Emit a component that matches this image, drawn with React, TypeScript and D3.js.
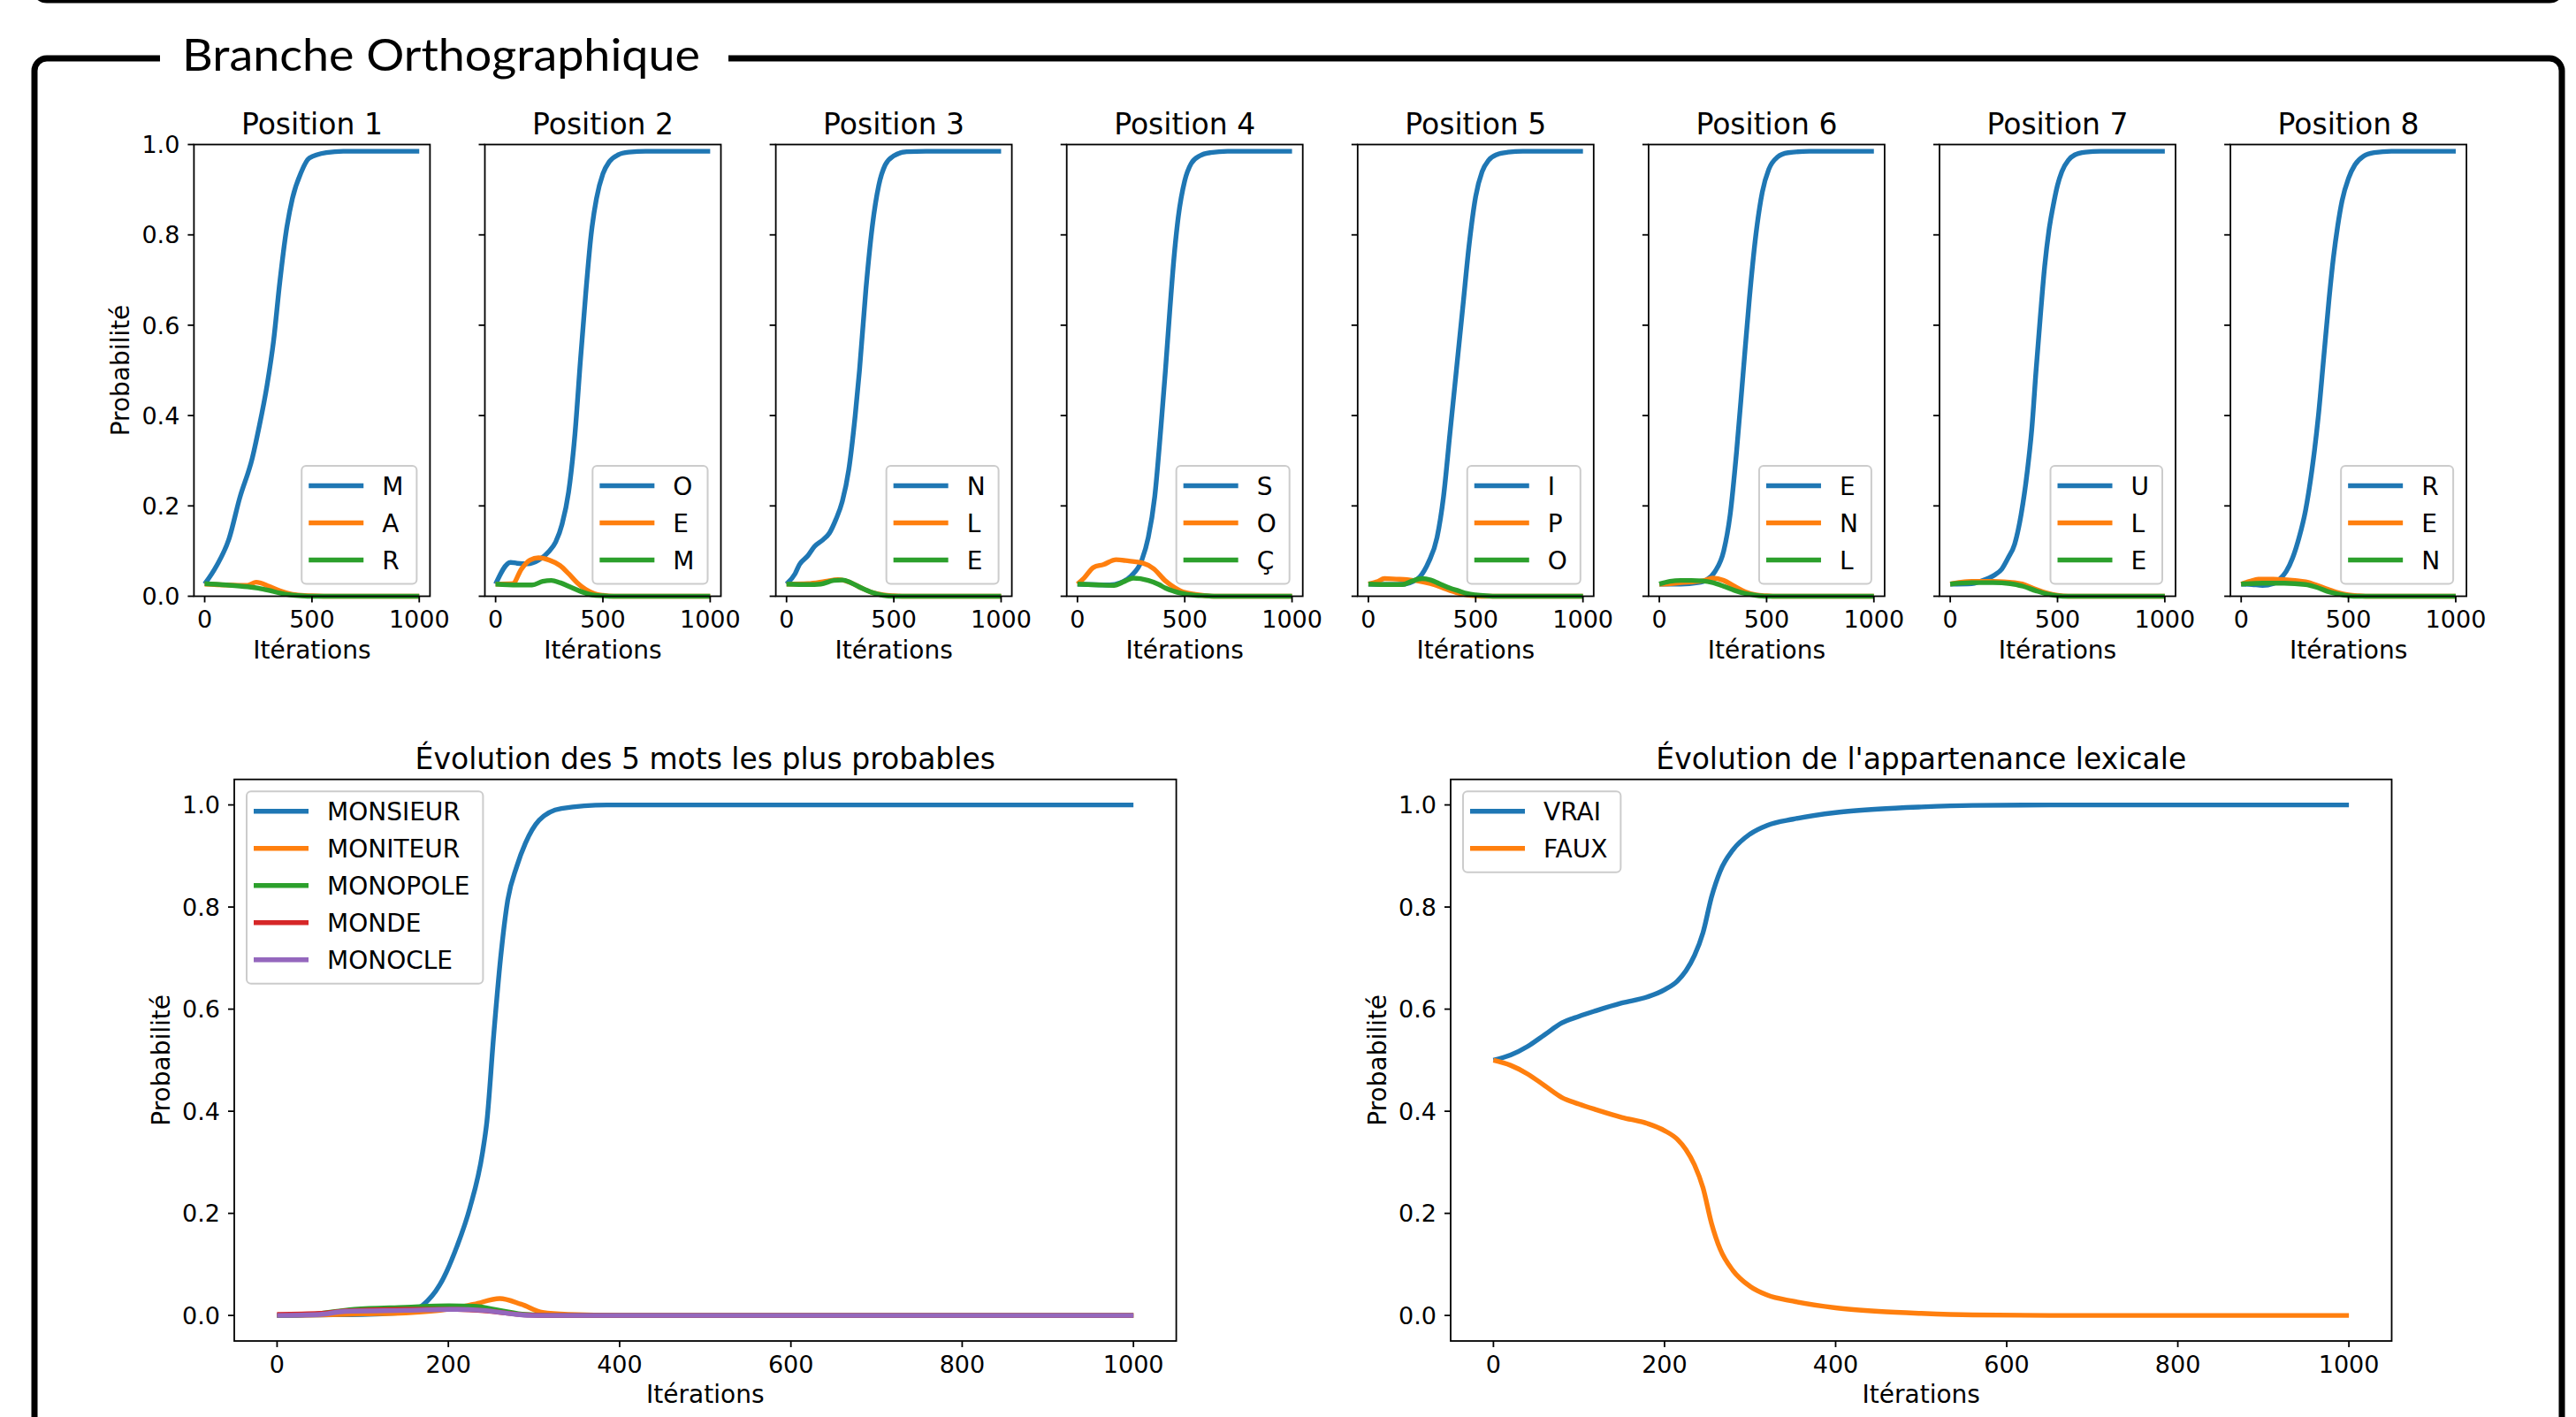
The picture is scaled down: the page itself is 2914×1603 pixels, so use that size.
import React from 'react';
import * as d3 from 'd3';

type Pt = [number, number];

const W = 2914;
const H = 1603;
const COLORS = ['#1f77b4', '#ff7f0e', '#2ca02c', '#d62728', '#9467bd'];
const FONT = '"DejaVu Sans", sans-serif';

// ---------- Data: top row (per-position letter probabilities) ----------
const p1_M: Pt[] = [[0,0.027],[55,0.067],[114,0.128],[163,0.217],[222,0.306],[252,0.371],[291,0.468],[321,0.565],[350,0.695],[380,0.808],[409,0.881],[449,0.938],[488,0.97],[567,0.982],[646,0.985],[1000,0.985]];
const p1_A: Pt[] = [[0,0.027],[100,0.025],[200,0.024],[240,0.031],[300,0.022],[350,0.012],[400,0.005],[450,0.002],[500,0.001],[600,0],[1000,0]];
const p1_R: Pt[] = [[0,0.028],[100,0.025],[200,0.021],[250,0.018],[300,0.013],[350,0.007],[400,0.003],[450,0.001],[500,0],[1000,0]];

const p2_O: Pt[] = [[0,0.027],[70,0.075],[100,0.073],[150,0.072],[200,0.08],[250,0.1],[280,0.12],[310,0.16],[340,0.23],[370,0.36],[395,0.52],[420,0.67],[445,0.8],[470,0.88],[500,0.935],[530,0.962],[570,0.977],[620,0.983],[700,0.985],[1000,0.985]];
const p2_E: Pt[] = [[0,0.027],[80,0.028],[120,0.06],[160,0.08],[200,0.085],[250,0.08],[300,0.068],[340,0.05],[380,0.03],[420,0.015],[460,0.006],[500,0.002],[550,0],[1000,0]];
const p2_M: Pt[] = [[0,0.027],[100,0.025],[170,0.025],[220,0.033],[260,0.035],[300,0.03],[350,0.02],[400,0.01],[450,0.003],[500,0.001],[550,0],[1000,0]];

const p3_N: Pt[] = [[0,0.027],[40,0.05],[60,0.07],[100,0.09],[130,0.11],[170,0.125],[200,0.14],[230,0.17],[260,0.21],[290,0.28],[320,0.4],[340,0.5],[370,0.68],[400,0.82],[430,0.91],[460,0.955],[500,0.975],[560,0.984],[650,0.985],[1000,0.985]];
const p3_L: Pt[] = [[0,0.027],[100,0.028],[180,0.033],[240,0.037],[300,0.03],[350,0.018],[400,0.008],[450,0.003],[500,0.001],[550,0],[1000,0]];
const p3_E: Pt[] = [[0,0.027],[100,0.026],[160,0.027],[220,0.035],[260,0.036],[300,0.03],[350,0.018],[400,0.008],[450,0.002],[500,0],[1000,0]];

const p4_S: Pt[] = [[0,0.027],[150,0.025],[200,0.03],[250,0.045],[300,0.08],[330,0.13],[360,0.22],[390,0.38],[410,0.5],[430,0.63],[450,0.75],[470,0.84],[500,0.92],[530,0.958],[570,0.975],[620,0.982],[700,0.985],[1000,0.985]];
const p4_O: Pt[] = [[0,0.027],[30,0.04],[75,0.064],[120,0.07],[180,0.081],[240,0.078],[300,0.074],[355,0.061],[410,0.034],[450,0.02],[480,0.012],[550,0.004],[600,0.001],[650,0],[1000,0]];
const p4_C: Pt[] = [[0,0.027],[100,0.025],[170,0.024],[220,0.033],[260,0.04],[330,0.035],[380,0.026],[410,0.018],[450,0.011],[480,0.007],[550,0.002],[600,0.001],[650,0],[1000,0]];

const p5_I: Pt[] = [[0,0.027],[100,0.026],[170,0.027],[210,0.033],[240,0.043],[280,0.075],[320,0.13],[350,0.22],[380,0.36],[410,0.5],[440,0.64],[470,0.78],[500,0.885],[530,0.94],[560,0.965],[600,0.978],[650,0.983],[720,0.985],[1000,0.985]];
const p5_P: Pt[] = [[0,0.027],[40,0.032],[75,0.039],[130,0.038],[180,0.037],[260,0.031],[310,0.025],[360,0.016],[410,0.008],[460,0.003],[500,0.001],[550,0],[1000,0]];
const p5_O: Pt[] = [[0,0.027],[100,0.026],[160,0.026],[200,0.033],[250,0.039],[290,0.036],[330,0.028],[380,0.018],[420,0.012],[460,0.006],[500,0.003],[550,0.001],[600,0],[1000,0]];

const p6_E: Pt[] = [[0,0.027],[100,0.027],[180,0.03],[220,0.036],[260,0.055],[300,0.1],[330,0.18],[360,0.32],[390,0.49],[420,0.66],[450,0.8],[480,0.895],[510,0.945],[550,0.972],[600,0.982],[700,0.985],[1000,0.985]];
const p6_N: Pt[] = [[0,0.027],[50,0.028],[100,0.03],[200,0.034],[250,0.04],[300,0.035],[350,0.022],[400,0.01],[450,0.003],[500,0.001],[550,0],[1000,0]];
const p6_L: Pt[] = [[0,0.027],[50,0.033],[100,0.035],[150,0.035],[200,0.034],[250,0.03],[300,0.022],[350,0.013],[400,0.006],[450,0.002],[500,0],[1000,0]];

const p7_U: Pt[] = [[0,0.027],[100,0.028],[140,0.033],[180,0.04],[210,0.048],[240,0.06],[270,0.085],[300,0.115],[330,0.18],[360,0.28],[380,0.37],[400,0.5],[420,0.62],[440,0.73],[460,0.81],[480,0.865],[500,0.91],[520,0.94],[550,0.965],[580,0.977],[630,0.983],[700,0.985],[1000,0.985]];
const p7_L: Pt[] = [[0,0.027],[50,0.031],[100,0.033],[200,0.033],[300,0.03],[350,0.025],[400,0.015],[450,0.007],[500,0.002],[550,0],[1000,0]];
const p7_E: Pt[] = [[0,0.027],[100,0.03],[200,0.03],[280,0.028],[340,0.022],[400,0.012],[450,0.005],[500,0.001],[550,0],[1000,0]];

const p8_R: Pt[] = [[0,0.027],[50,0.026],[100,0.024],[150,0.028],[180,0.038],[210,0.055],[240,0.085],[270,0.13],[300,0.19],[330,0.28],[360,0.4],[385,0.53],[410,0.66],[430,0.75],[450,0.82],[470,0.875],[500,0.925],[530,0.955],[570,0.974],[620,0.982],[700,0.985],[1000,0.985]];
const p8_E: Pt[] = [[0,0.027],[40,0.033],[80,0.038],[150,0.038],[200,0.037],[250,0.035],[300,0.032],[350,0.025],[400,0.016],[450,0.008],[500,0.003],[550,0.001],[600,0],[1000,0]];
const p8_N: Pt[] = [[0,0.027],[100,0.029],[200,0.029],[300,0.026],[350,0.02],[400,0.011],[450,0.005],[500,0.001],[550,0],[1000,0]];

const POSITION_TITLES = ['Position 1', 'Position 2', 'Position 3', 'Position 4', 'Position 5', 'Position 6', 'Position 7', 'Position 8'];
const POSITION_LETTERS = [['M','A','R'],['O','E','M'],['N','L','E'],['S','O','Ç'],['I','P','O'],['E','N','L'],['U','L','E'],['R','E','N']];
const POSITION_SERIES = [
  [p1_M, p1_A, p1_R], [p2_O, p2_E, p2_M], [p3_N, p3_L, p3_E], [p4_S, p4_O, p4_C],
  [p5_I, p5_P, p5_O], [p6_E, p6_N, p6_L], [p7_U, p7_L, p7_E], [p8_R, p8_E, p8_N],
];

// ---------- Data: bottom-left (top 5 words) ----------
const WORDS = ['MONSIEUR', 'MONITEUR', 'MONOPOLE', 'MONDE', 'MONOCLE'];
const w_MONSIEUR: Pt[] = [[0,0],[50,0.001],[100,0.002],[150,0.006],[170,0.02],[190,0.06],[210,0.135],[225,0.21],[240,0.32],[245,0.38],[253,0.55],[261,0.7],[269,0.81],[280,0.88],[290,0.925],[306,0.97],[332,0.993],[385,1.0],[1000,1.0]];
const w_MONITEUR: Pt[] = [[0,0],[50,0.001],[100,0.003],[150,0.005],[200,0.012],[230,0.022],[260,0.033],[285,0.022],[310,0.006],[340,0.002],[400,0],[1000,0]];
const w_MONOPOLE: Pt[] = [[0,0],[40,0.002],[70,0.008],[90,0.012],[150,0.016],[200,0.019],[230,0.018],[260,0.01],[290,0.002],[320,0],[1000,0]];
const w_MONDE: Pt[] = [[0,0.002],[50,0.004],[80,0.009],[150,0.012],[210,0.012],[250,0.008],[290,0.001],[320,0],[1000,0]];
const w_MONOCLE: Pt[] = [[0,0],[50,0.002],[80,0.008],[150,0.01],[210,0.012],[240,0.01],[280,0.002],[300,0],[1000,0]];
const WORD_SERIES = [w_MONSIEUR, w_MONITEUR, w_MONOPOLE, w_MONDE, w_MONOCLE];

// ---------- Data: bottom-right (lexical membership) ----------
const LEXICAL = ['VRAI', 'FAUX'];
const lex_VRAI: Pt[] = [[0,0.5],[20,0.51],[40,0.527],[60,0.55],[80,0.573],[100,0.586],[120,0.597],[150,0.612],[180,0.624],[200,0.638],[215,0.655],[225,0.675],[235,0.705],[245,0.75],[255,0.82],[265,0.87],[280,0.912],[300,0.943],[320,0.96],[350,0.972],[400,0.985],[450,0.992],[500,0.996],[560,0.999],[650,1.0],[1000,1.0]];
const lex_FAUX: Pt[] = [[0,0.5],[20,0.49],[40,0.473],[60,0.45],[80,0.427],[100,0.414],[120,0.403],[150,0.388],[180,0.376],[200,0.362],[215,0.345],[225,0.325],[235,0.295],[245,0.25],[255,0.18],[265,0.13],[280,0.088],[300,0.057],[320,0.04],[350,0.028],[400,0.015],[450,0.008],[500,0.004],[560,0.001],[650,0],[1000,0]];
const LEX_SERIES = [lex_VRAI, lex_FAUX];

// ---------- Ticks ----------
const TOP_X_TICKS = [0, 500, 1000];
const BOTTOM_X_TICKS = [0, 200, 400, 600, 800, 1000];
const Y_TICKS = [0, 0.2, 0.4, 0.6, 0.8, 1.0];

const FRAME_TITLE = 'Branche Orthographique';
const TITLE_WORDS = 'Évolution des 5 mots les plus probables';
const TITLE_LEX = "Évolution de l'appartenance lexicale";
const X_LABEL = 'Itérations';
const Y_LABEL = 'Probabilité';

let ctx: CanvasRenderingContext2D | null = null;
function textWidth(s: string, size: number): number {
  if (!ctx) ctx = document.createElement('canvas').getContext('2d');
  if (!ctx) return s.length * size * 0.6;
  ctx.font = `${size}px "DejaVu Sans"`;
  return ctx.measureText(s).width;
}

interface PanelProps {
  x0: number; y0: number; w: number; h: number;
  yDomain: [number, number];
  xTicks: number[];
  showYTickLabels: boolean;
  showYLabel: boolean;
  title: string;
  series: Pt[][];
  names: string[];
  legend: 'lr' | 'ul';
  tickFs: number;
  lineW: number;
}

function Panel(p: PanelProps) {
  const { x0, y0, w, h } = p;
  const xs = d3.scaleLinear().domain([-50, 1050]).range([x0, x0 + w]);
  const ys = d3.scaleLinear().domain(p.yDomain).range([y0 + h, y0]);
  const line = d3.line<Pt>().x(d => xs(d[0])).y(d => ys(d[1])).curve(d3.curveMonotoneX);
  const fmtY = d3.format('.1f');
  const tickLen = 7;
  const legFs = 28;
  const maxW = Math.max(...p.names.map(n => textWidth(n, legFs)));
  const legW = 8 + 62 + 21 + maxW + 15;
  const legH = 22.5 + (p.names.length - 1) * 42 + 27;
  const legX = p.legend === 'lr' ? x0 + w - 15 - legW : x0 + 14;
  const legY = p.legend === 'lr' ? y0 + h - 14 - legH : y0 + 13.5;
  return (
    <g>
      <text x={x0 + w / 2} y={y0 - 12} textAnchor="middle" fontSize={33} fontFamily={FONT}>{p.title}</text>
      {p.series.map((s, i) => (
        <path key={i} d={line(s) || ''} fill="none" stroke={COLORS[i]} strokeWidth={p.lineW} strokeLinejoin="round" strokeLinecap="butt" />
      ))}
      <rect x={x0} y={y0} width={w} height={h} fill="none" stroke="#000" strokeWidth={1.8} />
      {Y_TICKS.map(t => (
        <g key={'y' + t}>
          <line x1={x0 - tickLen} x2={x0} y1={ys(t)} y2={ys(t)} stroke="#000" strokeWidth={1.8} />
          {p.showYTickLabels && (
            <text x={x0 - 16} y={ys(t) + p.tickFs * 0.36} textAnchor="end" fontSize={p.tickFs} fontFamily={FONT}>{fmtY(t)}</text>
          )}
        </g>
      ))}
      {p.xTicks.map(t => (
        <g key={'x' + t}>
          <line x1={xs(t)} x2={xs(t)} y1={y0 + h} y2={y0 + h + tickLen} stroke="#000" strokeWidth={1.8} />
          <text x={xs(t)} y={y0 + h + 26 + p.tickFs * 0.36} textAnchor="middle" fontSize={p.tickFs} fontFamily={FONT}>{String(t)}</text>
        </g>
      ))}
      <text x={x0 + w / 2} y={y0 + h + 60 + 28 * 0.36} textAnchor="middle" fontSize={28} fontFamily={FONT}>{X_LABEL}</text>
      {p.showYLabel && (
        <text transform={`translate(${x0 - 73},${y0 + h / 2}) rotate(-90)`} textAnchor="middle" fontSize={28} fontFamily={FONT}>{Y_LABEL}</text>
      )}
      <g>
        <rect x={legX} y={legY} width={legW} height={legH} rx={5} fill="#fff" fillOpacity={0.8} stroke="#cccccc" strokeWidth={2} />
        {p.names.map((n, i) => {
          const cy = legY + 22.5 + i * 42;
          return (
            <g key={n + i}>
              <line x1={legX + 8} x2={legX + 70} y1={cy} y2={cy} stroke={COLORS[i]} strokeWidth={p.lineW} />
              <text x={legX + 91} y={cy + legFs * 0.36} fontSize={legFs} fontFamily={FONT}>{n}</text>
            </g>
          );
        })}
      </g>
    </g>
  );
}

export default function App() {
  const topLeft0 = 219.4;
  const topStep = 329.1;
  const topW = 267;
  const topY = 163.5;
  const topH = 511;
  const botY = 881.7;
  const botH = 635.3;
  return (
    <svg width={W} height={H} viewBox={`0 0 ${W} ${H}`} style={{ position: 'absolute', left: 0, top: 0, background: '#fff' }}>
      <rect x={0} y={0} width={W} height={H} fill="#fff" />
      {/* previous frame bottom edge */}
      <rect x={39} y={-200} width={2859} height={200} rx={14} fill="none" stroke="#000" strokeWidth={7} />
      {/* main frame */}
      <rect x={39} y={66} width={2859} height={1700} rx={14} fill="none" stroke="#000" strokeWidth={7} />
      <rect x={181} y={55} width={643} height={24} fill="#fff" />
      <text x={206} y={80} fontSize={50} fontFamily="Lato, 'Open Sans', sans-serif" textLength={586} lengthAdjust="spacingAndGlyphs">{FRAME_TITLE}</text>

      {POSITION_SERIES.map((s, i) => (
        <Panel key={i}
          x0={topLeft0 + i * topStep} y0={topY} w={topW} h={topH}
          yDomain={[0, 1]} xTicks={TOP_X_TICKS}
          showYTickLabels={i === 0} showYLabel={i === 0}
          title={POSITION_TITLES[i]} series={s} names={POSITION_LETTERS[i]}
          legend="lr" tickFs={27} lineW={5.4} />
      ))}

      <Panel x0={265} y0={botY} w={1065.6} h={botH}
        yDomain={[-0.05, 1.05]} xTicks={BOTTOM_X_TICKS}
        showYTickLabels={true} showYLabel={true}
        title={TITLE_WORDS} series={WORD_SERIES} names={WORDS}
        legend="ul" tickFs={27} lineW={5.4} />

      <Panel x0={1641} y0={botY} w={1064.5} h={botH}
        yDomain={[-0.05, 1.05]} xTicks={BOTTOM_X_TICKS}
        showYTickLabels={true} showYLabel={true}
        title={TITLE_LEX} series={LEX_SERIES} names={LEXICAL}
        legend="ul" tickFs={27} lineW={5.4} />
    </svg>
  );
}
